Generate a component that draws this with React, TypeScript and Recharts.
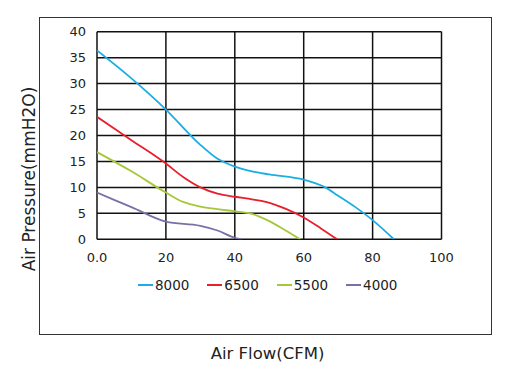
import React from "react";
import { LineChart, Line, XAxis, YAxis, CartesianGrid, Legend, Customized } from "recharts";

const xTicks = [0, 20, 40, 60, 80, 100];
const yTicks = [0, 5, 10, 15, 20, 25, 30, 35, 40];

const flow8000 = [0, 10, 20, 30, 35, 40, 45, 50, 60, 66, 70, 75, 80, 86.2];
const pres8000 = [36.4, 31, 25, 18.2, 15.5, 14, 13.1, 12.5, 11.5, 10.1, 8.4, 6.2, 3.7, 0];

const flow6500 = [0, 10, 20, 25, 30, 35, 40, 45, 49, 55, 60, 65, 69.7];
const pres6500 = [23.6, 19.1, 14.6, 12, 10, 8.8, 8.2, 7.7, 7.2, 5.8, 4.2, 2.1, 0];

const flow5500 = [0, 10, 20, 25, 30, 35, 40, 45, 50, 55, 59];
const pres5500 = [16.8, 13.1, 9, 7.2, 6.3, 5.8, 5.4, 4.9, 3.5, 1.6, 0];

const flow4000 = [0, 10, 20, 30, 35, 40, 42];
const pres4000 = [9, 6.2, 3.4, 2.6, 1.7, 0.3, 0];

const seriesNames = ["8000", "6500", "5500", "4000"];
const seriesColors = ["#1AAEE5", "#E8202E", "#A6C73A", "#7A70A6"];

const toData = (xs: number[], ys: number[]) => xs.map((x, i) => ({ flow: x, pressure: ys[i] }));

const series = [
  toData(flow8000, pres8000),
  toData(flow6500, pres6500),
  toData(flow5500, pres5500),
  toData(flow4000, pres4000),
];

const FONT = "'DejaVu Sans', sans-serif";

const LegendContent = () => (
  <div style={{ display: "flex", alignItems: "center", fontFamily: FONT, fontSize: 13.5, color: "#222" }}>
    {seriesNames.map((n, i) => (
      <div key={n} style={{ display: "flex", alignItems: "center", marginRight: 18 }}>
        <div style={{ width: 15, height: 2.5, background: seriesColors[i], marginRight: 2 }} />
        <span>{n}</span>
      </div>
    ))}
  </div>
);

const AxisTitles = () => (
  <g>
    <text x={267.5} y={358.5} textAnchor="middle" fontFamily={FONT} fontSize={16.5} fill="#222">
      Air Flow(CFM)
    </text>
    <text
      x={35}
      y={179}
      textAnchor="middle"
      fontFamily={FONT}
      fontSize={17}
      fill="#222"
      transform="rotate(-90 35 179)"
    >
      Air Pressure(mmH2O)
    </text>
  </g>
);

export default function App() {
  return (
    <div style={{ position: "absolute", left: 0, top: 0, width: 509, height: 369, background: "#fff" }}>
      <div
        style={{
          position: "absolute",
          left: 39,
          top: 17,
          width: 453,
          height: 318,
          border: "1.5px solid #333",
          boxSizing: "border-box",
        }}
      />
      <LineChart
        width={509}
        height={369}
        margin={{ top: 31.7, right: 67.5, left: 37, bottom: 99.7 }}
        style={{ position: "absolute", left: 0, top: 0 }}
      >
        <CartesianGrid stroke="#111" strokeWidth={1.5} horizontalValues={yTicks} verticalValues={xTicks} />
        <XAxis
          dataKey="flow"
          type="number"
          domain={[0, 100]}
          ticks={xTicks}
          height={30}
          axisLine={false}
          tickLine={false}
          tickSize={6}
          tickMargin={7}
          tickFormatter={(v: number) => (v === 0 ? "0.0" : String(v))}
          tick={{ fontFamily: FONT, fontSize: 13, fill: "#222" }}
          allowDataOverflow
        />
        <YAxis
          type="number"
          domain={[0, 40]}
          ticks={yTicks}
          width={60}
          axisLine={false}
          tickLine={false}
          tickSize={6}
          tickMargin={5}
          tick={{ fontFamily: FONT, fontSize: 13, fill: "#222" }}
          allowDataOverflow
        />
        {series.map((d, i) => (
          <Line
            key={seriesNames[i]}
            data={d}
            dataKey="pressure"
            name={seriesNames[i]}
            type="monotone"
            stroke={seriesColors[i]}
            strokeWidth={1.8}
            dot={false}
            activeDot={false}
            isAnimationActive={false}
          />
        ))}
        <Legend
          layout="horizontal"
          verticalAlign="middle"
          align="center"
          content={<LegendContent />}
          wrapperStyle={{ top: 277, left: 138, width: "auto", height: "auto" }}
        />
        <Customized component={AxisTitles} />
      </LineChart>
    </div>
  );
}
